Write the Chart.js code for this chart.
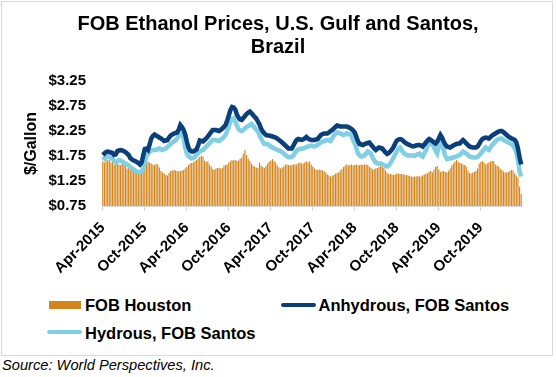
<!DOCTYPE html>
<html>
<head>
<meta charset="utf-8">
<script src="https://cdn.jsdelivr.net/npm/chart.js@4.4.0/dist/chart.umd.min.js"></script>
<style>
  body { margin: 0; background: #fff; font-family: "Liberation Sans", Arial, sans-serif; }
  #wrap { position: relative; width: 556px; height: 377px; overflow: hidden; }
  #frame { position: absolute; left: 1px; top: 1px; width: 550px; height: 353px; border: 1px solid #d9d9d9; }
  #myChart { position: absolute; left: 0; top: 0; }
  .leg { position: absolute; font-weight: bold; font-size: 16.5px; line-height: 19px; color: #000; white-space: nowrap; }
  .sw { position: absolute; }
  #source { position: absolute; left: 2px; top: 357px; font-style: italic; font-size: 14.67px; line-height: 17px; color: #000; white-space: nowrap; }
</style>
</head>
<body>
<div id="wrap">
  <div id="frame"></div>
  <canvas id="myChart" width="556" height="290"></canvas>
  <div class="sw" id="sw0" style="left:49px;top:301px;width:32px;height:8px;"></div>
  <div class="leg" id="lg0" style="left:85px;top:295.5px;"></div>
  <div class="sw" id="sw1" style="left:281px;top:303px;width:35px;height:4px;border-radius:2px;"></div>
  <div class="leg" id="lg1" style="left:318.5px;top:295.5px;"></div>
  <div class="sw" id="sw2" style="left:47px;top:330px;width:35px;height:4px;border-radius:2px;"></div>
  <div class="leg" id="lg2" style="left:85px;top:324px;"></div>
  <div id="source">Source: World Perspectives, Inc.</div>
</div>
<script>
// weekly series, Apr-2015 .. Mar-2020, $/gallon
var tickLabels = ['Apr-2015', 'Oct-2015', 'Apr-2016', 'Oct-2016', 'Apr-2017',
                  'Oct-2017', 'Apr-2018', 'Oct-2018', 'Apr-2019', 'Oct-2019'];

var fobHouston = [
  1.64,1.62,1.67,1.66,1.67,1.62,1.63,1.58,1.61,1.60,
  1.58,1.57,1.61,1.60,1.55,1.50,1.52,1.48,1.47,1.51,
  1.48,1.46,1.44,1.41,1.40,1.48,1.56,1.62,1.64,1.61,
  1.60,1.58,1.57,1.59,1.58,1.52,1.45,1.42,1.40,1.37,
  1.36,1.41,1.45,1.46,1.47,1.46,1.45,1.44,1.45,1.46,
  1.47,1.50,1.53,1.57,1.60,1.61,1.62,1.65,1.67,1.70,
  1.73,1.75,1.74,1.65,1.64,1.64,1.58,1.54,1.49,1.47,
  1.50,1.51,1.51,1.50,1.51,1.56,1.57,1.58,1.62,1.64,
  1.67,1.66,1.67,1.65,1.66,1.69,1.72,1.80,1.87,1.77,
  1.70,1.65,1.60,1.56,1.54,1.52,1.51,1.62,1.56,1.53,
  1.51,1.55,1.60,1.64,1.66,1.69,1.65,1.62,1.56,1.52,
  1.50,1.52,1.54,1.58,1.58,1.57,1.56,1.57,1.58,1.58,
  1.58,1.61,1.62,1.60,1.60,1.62,1.64,1.62,1.64,1.58,
  1.54,1.50,1.48,1.47,1.48,1.47,1.46,1.45,1.42,1.38,
  1.36,1.34,1.36,1.37,1.40,1.41,1.42,1.46,1.49,1.53,
  1.56,1.58,1.56,1.57,1.58,1.56,1.57,1.58,1.56,1.57,
  1.58,1.57,1.58,1.58,1.57,1.54,1.51,1.48,1.49,1.50,
  1.51,1.53,1.56,1.53,1.51,1.46,1.42,1.39,1.39,1.38,
  1.37,1.38,1.40,1.40,1.39,1.39,1.38,1.37,1.37,1.36,
  1.35,1.34,1.33,1.34,1.34,1.35,1.34,1.34,1.36,1.38,
  1.40,1.40,1.43,1.45,1.42,1.48,1.53,1.55,1.48,1.43,
  1.44,1.45,1.43,1.42,1.45,1.50,1.56,1.60,1.64,1.67,
  1.63,1.61,1.60,1.58,1.57,1.54,1.46,1.41,1.40,1.42,
  1.43,1.45,1.50,1.60,1.63,1.65,1.62,1.58,1.60,1.62,
  1.64,1.65,1.65,1.58,1.56,1.54,1.50,1.47,1.44,1.42,
  1.42,1.43,1.45,1.47,1.46,1.40,1.36,1.32,1.14,0.99
];

var anhydrousSantos = [
  1.77,1.80,1.83,1.84,1.83,1.82,1.81,1.77,1.78,1.85,
  1.86,1.87,1.86,1.85,1.83,1.80,1.77,1.71,1.68,1.66,
  1.65,1.63,1.61,1.58,1.62,1.76,1.89,1.90,1.87,1.98,
  2.10,2.15,2.18,2.16,2.14,2.12,2.10,2.08,2.05,2.06,
  2.07,2.12,2.16,2.18,2.20,2.21,2.22,2.28,2.37,2.33,
  2.27,2.18,2.04,1.92,1.86,1.84,1.84,1.86,1.88,1.96,
  2.06,2.05,2.04,2.07,2.10,2.14,2.18,2.23,2.27,2.27,
  2.27,2.26,2.25,2.27,2.30,2.33,2.37,2.46,2.56,2.67,
  2.73,2.72,2.68,2.58,2.52,2.48,2.47,2.51,2.55,2.59,
  2.62,2.64,2.61,2.57,2.53,2.50,2.44,2.38,2.30,2.24,
  2.20,2.17,2.16,2.16,2.15,2.14,2.13,2.12,2.10,2.07,
  2.05,2.02,1.99,1.96,1.93,1.90,1.90,1.90,1.96,2.02,
  2.07,2.09,2.08,2.07,2.08,2.10,2.13,2.10,2.08,2.07,
  2.07,2.07,2.08,2.09,2.13,2.17,2.19,2.20,2.20,2.20,
  2.22,2.25,2.27,2.30,2.33,2.36,2.35,2.34,2.34,2.34,
  2.34,2.34,2.33,2.31,2.29,2.26,2.22,2.13,2.04,1.99,
  1.98,1.97,1.99,2.00,2.01,2.02,1.98,1.94,1.90,1.87,
  1.90,1.92,1.91,1.90,1.86,1.82,1.79,1.81,1.84,1.88,
  1.93,2.00,2.06,2.08,2.09,2.08,2.05,2.02,2.00,1.98,
  1.97,1.95,1.94,1.95,1.96,1.97,1.97,1.96,1.94,1.98,
  2.02,2.06,2.09,2.07,2.05,2.02,2.00,2.04,2.10,2.17,
  2.12,2.04,1.98,1.94,1.93,1.92,1.94,1.96,1.98,1.99,
  2.00,2.00,2.04,2.07,2.04,2.00,1.97,1.94,1.93,1.92,
  1.92,1.92,1.94,1.99,2.05,2.09,2.11,2.12,2.11,2.10,
  2.13,2.16,2.18,2.20,2.22,2.24,2.25,2.25,2.23,2.20,
  2.17,2.14,2.12,2.10,2.09,2.07,2.02,1.90,1.72,1.58
];

var hydrousSantos = [
  1.67,1.70,1.72,1.74,1.73,1.71,1.69,1.65,1.62,1.64,
  1.67,1.66,1.64,1.62,1.60,1.58,1.56,1.53,1.51,1.48,
  1.46,1.44,1.43,1.42,1.43,1.50,1.62,1.74,1.80,1.84,
  1.86,1.87,1.87,1.87,1.89,1.90,1.88,1.87,1.89,1.90,
  1.93,1.96,1.99,2.02,2.04,2.06,2.10,2.15,2.20,2.18,
  2.10,1.92,1.80,1.75,1.72,1.70,1.71,1.73,1.77,1.81,
  1.84,1.86,1.87,1.90,1.94,1.97,2.00,2.04,2.07,2.07,
  2.07,2.06,2.05,2.07,2.10,2.13,2.17,2.25,2.34,2.44,
  2.49,2.50,2.44,2.36,2.29,2.26,2.25,2.27,2.30,2.33,
  2.35,2.37,2.39,2.35,2.32,2.28,2.24,2.17,2.10,2.04,
  1.99,1.99,1.99,1.96,1.94,1.92,1.90,1.89,1.87,1.86,
  1.85,1.83,1.80,1.77,1.74,1.73,1.72,1.73,1.76,1.81,
  1.86,1.88,1.89,1.90,1.90,1.91,1.93,1.94,1.95,1.96,
  1.95,1.94,1.96,1.97,2.00,2.02,2.04,2.05,2.06,2.07,
  2.06,2.05,2.10,2.16,2.20,2.22,2.21,2.20,2.19,2.17,
  2.18,2.20,2.19,2.18,2.17,2.06,2.00,1.90,1.80,1.76,
  1.74,1.75,1.76,1.80,1.84,1.82,1.80,1.72,1.66,1.62,
  1.60,1.60,1.60,1.59,1.57,1.55,1.54,1.56,1.60,1.66,
  1.72,1.78,1.84,1.90,1.92,1.87,1.82,1.79,1.77,1.76,
  1.76,1.76,1.76,1.75,1.77,1.79,1.80,1.76,1.74,1.80,
  1.86,1.94,2.00,2.00,1.99,1.92,1.85,1.80,1.94,2.04,
  1.96,1.87,1.75,1.69,1.70,1.70,1.71,1.72,1.73,1.74,
  1.76,1.77,1.81,1.84,1.82,1.80,1.77,1.74,1.73,1.72,
  1.72,1.72,1.73,1.76,1.80,1.84,1.88,1.92,1.89,1.87,
  1.92,1.97,2.00,2.04,2.07,2.09,2.10,2.10,2.08,2.05,
  2.04,2.02,2.01,1.99,1.96,1.90,1.82,1.66,1.44,1.34
];

var weeks = fobHouston.map(function (v, i) { return i; });

var ORANGE = '#d3841a';
var DARK = '#0a3f7a';
var LIGHT = '#80cfe2';

Chart.defaults.font.family = "'Liberation Sans', Arial, sans-serif";
Chart.defaults.color = '#000';

var datasets = [
  { label: 'FOB Houston', data: fobHouston, backgroundColor: ORANGE,
    barPercentage: 0.72, categoryPercentage: 1, order: 3 },
  { type: 'line', label: 'Anhydrous, FOB Santos', data: anhydrousSantos,
    borderColor: DARK, borderWidth: 4.5, pointRadius: 0, tension: 0, order: 1 },
  { type: 'line', label: 'Hydrous, FOB Santos', data: hydrousSantos,
    borderColor: LIGHT, borderWidth: 4.5, pointRadius: 0, tension: 0, order: 2 }
];

// html legend, laid out like the original two-column legend
datasets.forEach(function (ds, i) {
  document.getElementById('lg' + i).textContent = ds.label;
  document.getElementById('sw' + i).style.background = ds.backgroundColor || ds.borderColor;
});

var ctx = document.getElementById('myChart').getContext('2d');
var myChart = new Chart(ctx, {
  type: 'bar',
  data: { labels: weeks, datasets: datasets },
  options: {
    responsive: false,
    animation: false,
    layout: { padding: 0 },
    plugins: {
      legend: { display: false },
      tooltip: { enabled: false },
      title: {
        display: true,
        text: ['FOB Ethanol Prices, U.S. Gulf and Santos,', 'Brazil'],
        font: { size: 20, weight: 'bold', lineHeight: 1.15 },
        color: '#000',
        padding: { top: 12.5, bottom: 22.5 }
      }
    },
    scales: {
      x: {
        offset: true,
        afterFit: function (scale) { scale.height = 84; },
        grid: {
          offset: true,
          drawOnChartArea: false,
          tickLength: 5,
          color: function (c) { return c.index % 26 === 0 ? '#d9d9d9' : 'rgba(0,0,0,0)'; }
        },
        border: { display: true, color: '#d9d9d9', width: 1 },
        ticks: {
          autoSkip: false,
          minRotation: 45,
          maxRotation: 45,
          padding: 8,
          font: { size: 15, weight: 'bold' },
          color: '#000',
          callback: function (v, i) { return i % 26 === 0 ? tickLabels[i / 26] : ''; }
        }
      },
      y: {
        min: 0.75,
        max: 3.25,
        afterFit: function (scale) { scale.width = 102; },
        grid: { display: false, drawTicks: false },
        border: { display: false },
        ticks: {
          stepSize: 0.5,
          padding: 16,
          font: { size: 15, weight: 'bold' },
          color: '#000',
          callback: function (v) { return '$' + v.toFixed(2); }
        },
        title: {
          display: true,
          text: '$/Gallon',
          font: { size: 16, weight: 'bold' },
          color: '#000',
          padding: { top: 22.4, bottom: 0 }
        }
      },
      // empty right-hand axis, only keeps the plot's right margin
      yRight: {
        position: 'right',
        display: true,
        afterFit: function (scale) { scale.width = 34; },
        grid: { display: false, drawTicks: false },
        border: { display: false },
        ticks: { display: false }
      }
    }
  }
});
</script>
</body>
</html>
